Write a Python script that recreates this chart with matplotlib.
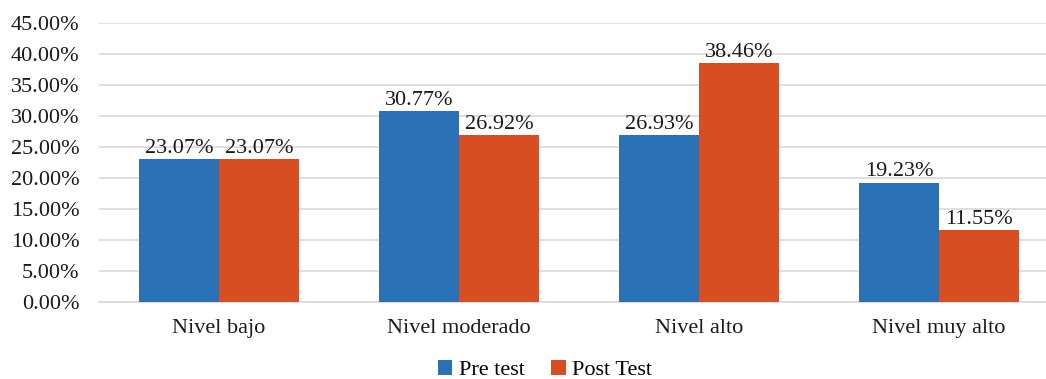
import numpy as np
import matplotlib.pyplot as plt
from matplotlib.ticker import PercentFormatter

niveles = ["Nivel bajo", "Nivel moderado", "Nivel alto", "Nivel muy alto"]
pre_test = [23.07, 30.77, 26.93, 19.23]
post_test = [23.07, 26.92, 38.46, 11.55]
series_names = ["Pre test", "Post Test"]

plt.rcParams['font.family'] = ['Liberation Serif', 'DejaVu Serif']

azul = '#2A71B6'
naranja = '#D64E22'

fig = plt.figure(figsize=(10.46, 3.79), dpi=100)
ax = fig.add_axes([99 / 1046, 76.8 / 379, 960 / 1046, 279.5 / 379])

x = np.arange(len(niveles))
w = 1 / 3
b1 = ax.bar(x - w / 2, pre_test, w, color=azul, label=series_names[0], zorder=3)
b2 = ax.bar(x + w / 2, post_test, w, color=naranja, label=series_names[1], zorder=3)

for bars, vals in ((b1, pre_test), (b2, post_test)):
    ax.bar_label(bars, labels=[f"{v:.2f}%" for v in vals], padding=1, fontsize=16, color='#1a1a1a')

ax.set_xlim(-0.5, len(niveles) - 0.5)
ax.set_ylim(0, 45)
ax.set_yticks(np.arange(0, 46, 5))
ax.yaxis.set_major_formatter(PercentFormatter(decimals=2))
ax.set_xticks(x)
ax.set_xticklabels(niveles)

ax.grid(axis='y', color='#D9D9D9', linewidth=1.2, zorder=0)
for s in ('top', 'right', 'left'):
    ax.spines[s].set_visible(False)
ax.spines['bottom'].set_color('#D9D9D9')
ax.spines['bottom'].set_linewidth(1.2)
ax.tick_params(axis='both', length=0, labelsize=16, labelcolor='#1a1a1a')
ax.tick_params(axis='y', pad=14)
ax.tick_params(axis='x', pad=12)

fig.legend(loc='center', bbox_to_anchor=(545 / 1046, 1 - 370 / 379), ncol=2,
           frameon=False, fontsize=16, handlelength=0.65, handleheight=0.65,
           handletextpad=0.3, columnspacing=1.2, borderaxespad=0)

fig.savefig('out.png', dpi=100)
